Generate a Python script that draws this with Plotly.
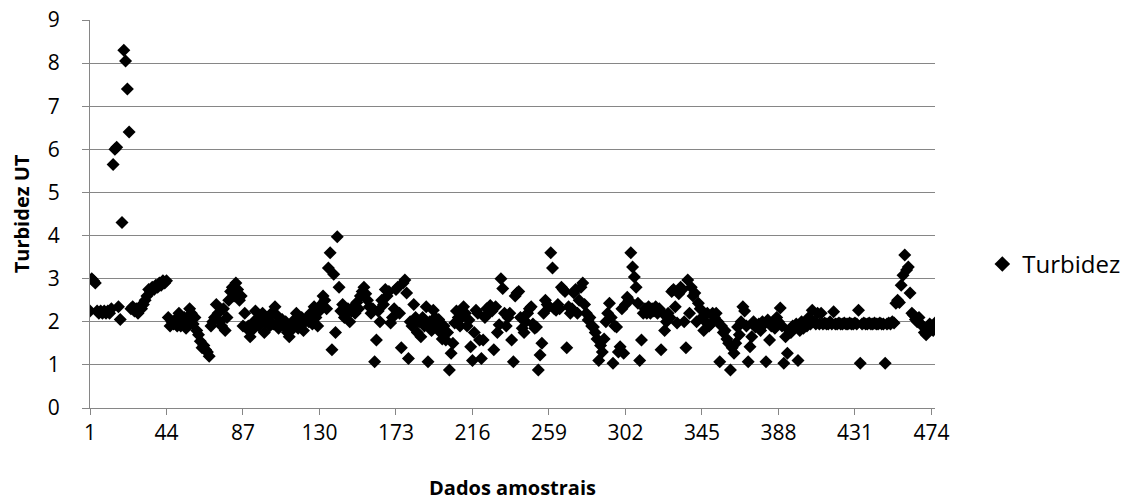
import plotly.graph_objects as go

# Turbidity readings (UT), one per sample, in order of collection
turbidez = [
    2.25, 3.0, 2.95, 2.9, 2.25, 2.2, 2.25, 2.2, 2.25, 2.2,
    2.25, 2.2, 2.3, 5.65, 6.0, 6.05, 2.35, 2.05, 4.3, 8.3,
    8.05, 7.4, 6.4, 2.3, 2.35, 2.25, 2.3, 2.2, 2.35, 2.3,
    2.4, 2.5, 2.6, 2.75, 2.7, 2.8, 2.75, 2.85, 2.8, 2.9,
    2.85, 2.95, 2.9, 2.95, 2.1, 1.9, 2.0, 1.95, 2.05, 1.9,
    2.2, 1.9, 2.0, 2.1, 1.85, 2.05, 2.3, 2.2, 1.95, 2.1,
    1.8, 1.7, 1.55, 1.4, 1.45, 1.35, 1.3, 1.2, 1.9, 2.0,
    2.1, 2.4, 2.2, 2.0, 1.9, 2.3, 1.8, 2.1, 2.5, 2.7,
    2.8, 2.6, 2.9, 2.75, 2.5, 2.6, 1.9, 2.2, 1.85, 1.9,
    1.65, 1.8, 2.0, 2.25, 2.05, 1.9, 2.1, 2.2, 1.75, 2.0,
    2.1, 1.9, 2.2, 1.95, 2.35, 2.15, 1.85, 2.0, 2.05, 1.9,
    2.0, 1.75, 1.65, 1.8, 1.9, 2.05, 2.2, 1.85, 1.95, 2.1,
    1.8, 2.0, 2.1, 2.0, 2.2, 1.95, 2.35, 2.1, 1.9, 2.25,
    2.4, 2.6, 2.5, 2.3, 3.25, 3.6, 1.35, 3.1, 1.75, 3.97,
    2.8, 2.25, 2.4, 2.1, 2.2, 2.3, 2.0, 2.25, 2.35, 2.2,
    2.45, 2.3, 2.6, 2.7, 2.8, 2.65, 2.5, 2.35, 2.2, 2.3,
    1.07, 1.58, 2.25, 2.0, 2.5, 2.4, 2.75, 2.6, 2.7, 1.97,
    2.1, 2.3, 2.75, 2.8, 2.2, 1.4, 2.9, 2.97, 2.67, 1.15,
    2.0, 1.9, 2.4, 2.1, 1.75, 2.0, 1.65, 2.1, 1.9, 2.35,
    1.07, 2.0, 1.8, 2.27, 2.1, 1.9, 2.05, 1.75, 1.6, 1.9,
    1.58, 1.75, 0.88, 1.27, 1.5, 1.97, 2.25, 2.1, 1.9, 2.1,
    2.35, 2.2, 1.9, 2.04, 1.42, 1.1, 1.75, 2.27, 2.2, 1.58,
    1.15, 1.58, 2.1, 2.3, 2.2, 2.38, 2.25, 1.35, 2.35, 1.75,
    1.93, 3.0, 2.77, 2.2, 1.9, 2.1, 2.2, 1.58, 1.07, 2.6,
    2.67, 2.7, 2.1, 1.85, 1.75, 2.0, 2.2, 2.3, 2.35, 1.95,
    1.85, 1.88, 0.88, 1.23, 1.5, 2.2, 2.5, 2.4, 2.35, 3.6,
    3.25, 2.3, 2.27, 2.4, 2.3, 2.8, 2.75, 2.7, 1.4, 2.35,
    2.2, 2.3, 2.67, 2.75, 2.2, 2.5, 2.8, 2.9, 2.4, 2.2,
    2.04, 2.1, 1.9, 1.88, 1.75, 1.6, 1.1, 1.45, 1.3, 1.6,
    2.0, 2.2, 2.43, 2.1, 1.04, 1.9, 1.88, 1.3, 1.42, 2.3,
    1.27, 2.4, 2.57, 2.5, 3.6, 3.27, 3.04, 2.8, 2.43, 1.1,
    1.58, 2.2, 2.3, 2.2, 2.35, 2.2, 2.3, 2.25, 2.35, 2.2,
    2.3, 1.35, 2.2, 1.8, 2.0, 2.2, 2.1, 2.7, 2.75, 2.35,
    1.97, 2.65, 2.8, 2.75, 2.0, 1.4, 2.97, 2.2, 2.8, 2.6,
    2.67, 2.0, 2.43, 2.3, 2.1, 1.8, 2.0, 2.2, 1.9, 1.95,
    2.2, 2.1, 2.2, 2.0, 1.07, 1.9, 1.75, 1.8, 1.6, 1.5,
    0.88, 1.4, 1.27, 1.5, 1.88, 1.7, 2.0, 2.35, 2.25, 1.9,
    1.07, 1.42, 1.65, 2.0, 1.88, 1.9, 1.95, 1.8, 2.0, 1.95,
    1.07, 2.04, 1.58, 1.9, 2.0, 1.85, 2.1, 2.0, 2.32, 1.9,
    1.04, 1.65, 1.27, 1.8, 1.75, 1.9, 1.88, 1.95, 1.1, 1.8,
    2.0, 1.85, 1.97, 1.9, 2.1, 1.95, 2.27, 2.0, 1.95, 2.2,
    1.95, 2.2, 1.95, 1.97, 1.95, 1.95, 2.0, 1.95, 2.23, 1.95,
    1.95, 1.97, 1.95, 1.95, 1.97, 1.95, 1.95, 1.97, 1.95, 1.95,
    1.97, 1.95, 2.27, 1.04, 1.95, 1.97, 1.95, 1.95, 1.97, 1.95,
    1.95, 1.97, 1.95, 1.95, 1.97, 1.95, 1.95, 1.04, 1.95, 1.97,
    1.95, 2.0, 1.97, 2.43, 2.5, 2.45, 2.85, 3.08, 3.55, 3.2,
    3.27, 2.67, 2.2, 2.15, 2.05, 2.0, 2.1, 1.95, 1.9, 1.75,
    1.7, 1.85, 1.95, 1.9, 1.8, 1.97,
]
amostras = list(range(1, len(turbidez) + 1))

x_ticks = [1, 44, 87, 130, 173, 216, 259, 302, 345, 388, 431, 474]
y_ticks = [0, 1, 2, 3, 4, 5, 6, 7, 8, 9]

FONT = "Open Sans"
GRID = "#868686"

fig = go.Figure()
fig.add_trace(go.Scatter(
    x=amostras,
    y=turbidez,
    mode="markers",
    name="Turbidez",
    marker=dict(symbol="diamond", size=10, color="black", line=dict(width=0)),
))

fig.update_layout(
    width=1130,
    height=501,
    margin=dict(l=90, r=195, t=20, b=93, autoexpand=False),
    paper_bgcolor="white",
    plot_bgcolor="white",
    font=dict(family=FONT, color="black", size=21),
    showlegend=True,
    legend=dict(
        x=1.056, xanchor="left", xref="paper",
        y=0.37, yanchor="middle",
        font=dict(family=FONT, size=24, color="black"),
        itemsizing="constant",
        itemwidth=30,
        bgcolor="rgba(0,0,0,0)",
    ),
)

fig.update_xaxes(
    range=[1, len(turbidez)],
    tickmode="array",
    tickvals=x_ticks,
    ticktext=[str(t) for t in x_ticks],
    showgrid=False,
    zeroline=False,
    showline=True,
    linecolor=GRID,
    linewidth=1,
    ticks="outside",
    ticklen=6,
    tickcolor=GRID,
    tickfont=dict(family=FONT, size=21),
    automargin=False,
    title=dict(text="<b>Dados amostrais</b>", font=dict(family=FONT, size=20), standoff=35),
)

fig.update_yaxes(
    range=[0, 9],
    tickmode="array",
    tickvals=y_ticks,
    showgrid=True,
    gridcolor=GRID,
    gridwidth=1,
    zeroline=False,
    showline=True,
    linecolor=GRID,
    linewidth=1,
    ticks="outside",
    ticklen=7,
    tickcolor=GRID,
    ticklabelstandoff=18,
    tickfont=dict(family=FONT, size=21),
    automargin=False,
    title=dict(text="<b>Turbidez UT</b>", font=dict(family=FONT, size=20), standoff=12),
)

fig.write_html("out.html")
